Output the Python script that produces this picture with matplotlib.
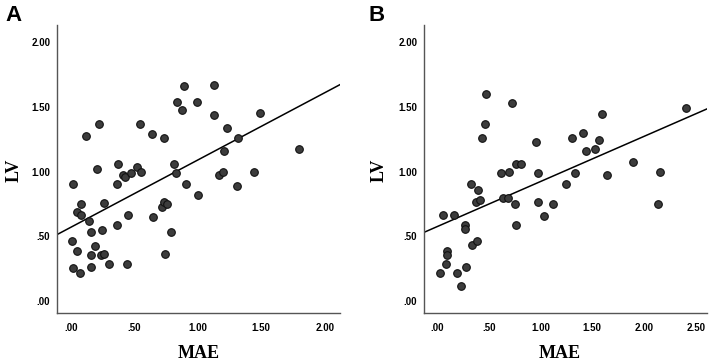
"""Scatter of LV vs MAE with linear fit, panels A and B."""
import numpy as np
import matplotlib
matplotlib.use("Agg")
import matplotlib.pyplot as plt

SANS = "Liberation Sans"
SERIF = "Liberation Serif"
DOT, EDGE, SPINE = "#3c3c3c", "#111111", "#555555"

# ---- panel A data ----
mae_a = [0.005, 0.018, 0.018, 0.045, 0.045, 0.068, 0.079, 0.079, 0.121, 0.145,
         0.158, 0.155, 0.161, 0.192, 0.205, 0.224, 0.242, 0.237, 0.263, 0.263,
         0.303, 0.366, 0.366, 0.368, 0.413, 0.429, 0.442, 0.453, 0.474, 0.518,
         0.553, 0.547, 0.639, 0.645, 0.721, 0.732, 0.737, 0.755, 0.742, 0.789,
         0.811, 0.829, 0.837, 0.874, 0.892, 0.905, 0.995, 1.000, 1.124, 1.126,
         1.166, 1.200, 1.208, 1.229, 1.318, 1.311, 1.439, 1.489, 1.800]
lv_a = [0.467, 0.908, 0.255, 0.689, 0.387, 0.214, 0.748, 0.668, 1.280, 0.617,
        0.537, 0.354, 0.266, 0.426, 1.019, 1.370, 0.547, 0.354, 0.364, 0.759,
        0.284, 0.908, 0.586, 1.058, 0.978, 0.957, 0.284, 0.668, 0.988, 1.040,
        0.999, 1.370, 1.290, 0.648, 0.728, 1.259, 0.769, 0.748, 0.366, 0.537,
        1.058, 0.988, 1.543, 1.474, 1.662, 0.908, 1.543, 0.818, 1.672, 1.443,
        0.978, 0.999, 1.159, 1.339, 1.259, 0.888, 0.999, 1.453, 1.179]

# ---- panel B data ----
mae_b = [0.032, 0.061, 0.087, 0.093, 0.093, 0.161, 0.193, 0.235, 0.271, 0.271,
         0.280, 0.332, 0.338, 0.387, 0.393, 0.377, 0.416, 0.435, 0.461, 0.477,
         0.619, 0.641, 0.693, 0.689, 0.722, 0.754, 0.760, 0.760, 0.809, 0.954,
         0.976, 0.979, 1.034, 1.124, 1.250, 1.302, 1.334, 1.411, 1.440, 1.527,
         1.569, 1.595, 1.646, 1.894, 2.139, 2.159, 2.407]
lv_b = [0.214, 0.668, 0.284, 0.387, 0.354, 0.668, 0.214, 0.116, 0.586, 0.555,
        0.266, 0.908, 0.436, 0.467, 0.859, 0.766, 0.779, 1.259, 1.370, 1.603,
        0.988, 0.797, 1.000, 0.797, 1.533, 0.748, 1.058, 0.586, 1.058, 1.228,
        0.988, 0.766, 0.658, 0.748, 0.908, 1.259, 0.988, 1.301, 1.159, 1.179,
        1.249, 1.450, 0.978, 1.079, 0.748, 0.999, 1.492]

panels = [
    dict(tag="A", x=mae_a, y=lv_a, xlim=(-0.108, 2.12), xticks=[0, 0.5, 1.0, 1.5, 2.0],
         rect=[0.0808, 0.132, 0.3987, 0.799], xlab=0.50, ylab=-0.153, tagx=0.007),
    dict(tag="B", x=mae_b, y=lv_b, xlim=(-0.122, 2.606), xticks=[0, 0.5, 1.0, 1.5, 2.0, 2.5],
         rect=[0.5984, 0.132, 0.3983, 0.799], xlab=0.48, ylab=-0.16, tagx=0.52),
]
yticks = [0, 0.5, 1.0, 1.5, 2.0]


def fmt(v):
    s = f"{v:.2f}"
    return s[1:] if s.startswith("0") else s


fig = plt.figure(figsize=(7.09, 3.61), dpi=100)
for p in panels:
    ax = fig.add_axes(p["rect"])
    x, y = np.array(p["x"]), np.array(p["y"])
    ax.scatter(x, y, s=30, color=DOT, edgecolor=EDGE, linewidth=0.8, zorder=3)
    k, b = np.polyfit(x, y, 1)
    xs = np.array(p["xlim"])
    ax.plot(xs, k * xs + b, color="black", lw=1.1, zorder=2)
    ax.set_xlim(*p["xlim"]); ax.set_ylim(-0.095, 2.136)
    ax.set_xticks(p["xticks"]); ax.set_xticklabels([fmt(v) for v in p["xticks"]])
    ax.set_yticks(yticks); ax.set_yticklabels([fmt(v) for v in yticks])
    for s in ("top", "right"):
        ax.spines[s].set_visible(False)
    for s in ("left", "bottom"):
        ax.spines[s].set_color(SPINE); ax.spines[s].set_linewidth(1.0)
    ax.tick_params(length=0, labelsize=7, pad=5)
    ax.tick_params(axis="x", pad=7)
    for lb in ax.get_xticklabels() + ax.get_yticklabels():
        lb.set_family(SANS); lb.set_fontweight("bold")
    ax.set_xlabel("MAE", family=SERIF, fontweight="bold", fontsize=13, va="baseline")
    ax.set_ylabel("LV", family=SERIF, fontweight="bold", fontsize=13, va="center")
    ax.xaxis.set_label_coords(p["xlab"], -0.155)
    ax.yaxis.set_label_coords(p["ylab"], 0.497)
    fig.text(p["tagx"], 0.985, p["tag"], family=SANS, fontweight="bold", fontsize=16,
             ha="left", va="top")

fig.savefig("out.png", dpi=100)
